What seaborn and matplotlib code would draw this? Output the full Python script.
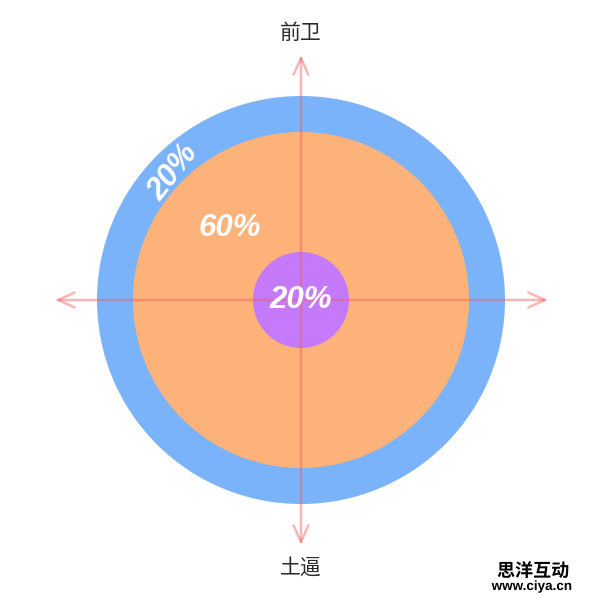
import numpy as np
import matplotlib
matplotlib.use("Agg")
import matplotlib.pyplot as plt
import matplotlib.patheffects as pe
from matplotlib.patches import Circle
import seaborn as sns

# datos del grafico
anillos = ["exterior", "medio", "interior"]
porcentajes = [20, 60, 20]
radios = [204, 168, 48]
colores = ["#7AB3FA", "#FDB27A", "#C47AFA"]
eje_arriba = "前卫"
eje_abajo = "土逼"
marca = ["思洋互动", "www.ciya.cn"]

sns.set_theme(style="white")
plt.rcParams['font.family'] = ['Liberation Sans', 'Noto Sans CJK SC', 'DejaVu Sans']

fig = plt.figure(figsize=(6, 6), dpi=100)
ax = fig.add_axes([0, 0, 1, 1])
ax.set_xlim(0, 600)
ax.set_ylim(600, 0)
ax.set_aspect("equal")
ax.axis("off")

cx, cy = 301, 300

# circulos concentricos
for r, c in zip(radios, colores):
    ax.add_patch(Circle((cx, cy), r, facecolor=c, edgecolor="none", zorder=1))

# ejes con flechas
flecha = dict(arrowstyle="<->,head_length=1.0,head_width=0.45", color="#EE6060",
              alpha=0.45, lw=1.8, shrinkA=0, shrinkB=0)
ax.annotate("", xy=(cx, 55), xytext=(cx, 545), arrowprops=flecha, zorder=2)
ax.annotate("", xy=(55, cy), xytext=(548, cy), arrowprops=flecha, zorder=2)

# etiquetas de porcentaje
estilo = dict(color="white", fontsize=22.5, fontweight="bold", fontstyle="italic",
              ha="center", va="center", zorder=3)
ax.text(173, 172, f"{porcentajes[0]}%", rotation=52, rotation_mode="anchor", **estilo)
ax.text(230, 228, f"{porcentajes[1]}%", **estilo)
ax.text(cx, cy, f"{porcentajes[2]}%", **estilo)

# etiquetas de los extremos
cjk = ['Noto Sans CJK SC', 'DejaVu Sans']
ax.text(cx, 33, eje_arriba, fontsize=15, color="#2a2a2a", ha="center", va="center", family=cjk)
ax.text(cx, 568, eje_abajo, fontsize=15, color="#2a2a2a", ha="center", va="center", family=cjk)

# marca de agua
borde = [pe.withStroke(linewidth=2.5, foreground="white")]
ax.text(533, 571, marca[0], fontsize=13, fontweight="bold", color="black",
        ha="center", va="center", family=cjk, path_effects=borde)
ax.text(532, 587, marca[1], fontsize=9.7, fontweight="bold", color="black",
        ha="center", va="center", path_effects=borde)

fig.savefig("out.png", dpi=100, facecolor="white")
